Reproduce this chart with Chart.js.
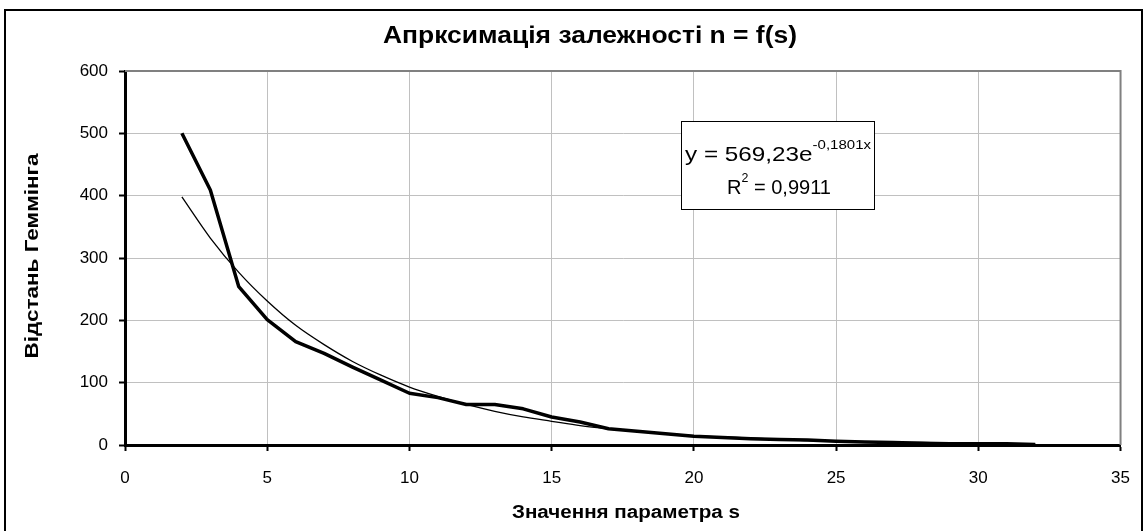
<!DOCTYPE html>
<html><head><meta charset="utf-8">
<script src="https://cdn.jsdelivr.net/npm/chart.js@4/dist/chart.umd.min.js"></script>
<style>html,body{margin:0;padding:0;background:#fff;overflow:hidden}#wrap{width:1147px;height:531px}</style>
</head><body><div id="wrap"><canvas id="c" width="1147" height="531"></canvas></div>
<script>
// ---- data ----
const sValues = [2,3,4,5,6,7,8,9,10,11,12,13,14,15,16,17,18,19,20,21,22,23,24,25,26,27,28,29,30,31,32];
const hammingDistance = [500,409,254,201,166,147,125,104,83,76,65,65,58,45,37,26,22,18,14,12,10,9,8,6,5,4,3,2,2,2,1];
const trendValues = [398,332,277,231,192,161,134,112,93,78,65,54,45,38,31,26,22,18,15,13,11,9,7,6,5,4,4,3,3,2,2];
const xTicks = [0,5,10,15,20,25,30,35];
const yTicks = [0,100,200,300,400,500,600];
const chartTitle = 'Апрксимація залежності n = f(s)';
const xTitle = 'Значення параметра s';
const yTitle = 'Відстань Геммінга';
const eqMain = 'y = 569,23e';
const eqExp = '-0,1801x';
const r2Main = 'R';
const r2Sup = '2';
const r2Rest = ' = 0,9911';

const FONT = '"Liberation Sans", Arial, sans-serif';

function fitText(ctx, text, x, y, width, font, align) {
  ctx.save();
  ctx.font = font;
  const w = ctx.measureText(text).width;
  const sx = width / w;
  ctx.translate(x, y);
  ctx.scale(sx, 1);
  ctx.textAlign = align || 'center';
  ctx.textBaseline = 'middle';
  ctx.fillStyle = '#000';
  ctx.fillText(text, 0, 0);
  ctx.restore();
}

function runs(ctx, parts, x, y, width) {
  let total = 0;
  parts.forEach(p => { ctx.font = p.size + 'px ' + FONT; p.w = ctx.measureText(p.t).width; total += p.w; });
  const sx = width / total;
  ctx.save();
  ctx.translate(x, y);
  ctx.scale(sx, 1);
  ctx.textAlign = 'left';
  ctx.textBaseline = 'alphabetic';
  ctx.fillStyle = '#000';
  let cx = 0;
  parts.forEach(p => { ctx.font = p.size + 'px ' + FONT; ctx.fillText(p.t, cx, p.dy || 0); cx += p.w; });
  ctx.restore();
}

const decor = {
  id: 'decor',
  beforeDraw(chart) {
    const ctx = chart.ctx;
    ctx.save();
    ctx.fillStyle = '#fff';
    ctx.fillRect(0, 0, chart.width, chart.height);
    ctx.strokeStyle = '#000';
    ctx.lineWidth = 2;
    ctx.strokeRect(5, 10, 1137, 530);
    ctx.restore();
  },
  beforeDatasetsDraw(chart) {
    const ctx = chart.ctx, a = chart.chartArea;
    ctx.save();
    ctx.strokeStyle = '#808080';
    ctx.lineWidth = 2;
    ctx.beginPath();
    ctx.moveTo(a.left, a.top);
    ctx.lineTo(a.right, a.top);
    ctx.lineTo(a.right, a.bottom);
    ctx.stroke();
    ctx.restore();
  },
  afterDraw(chart) {
    const ctx = chart.ctx;
    fitText(ctx, chartTitle, 590, 37, 414, 'bold 23px ' + FONT);
    fitText(ctx, xTitle, 626, 513, 228, 'bold 18px ' + FONT);
    ctx.save();
    ctx.translate(33, 256);
    ctx.rotate(-Math.PI / 2);
    fitText(ctx, yTitle, 0, 0, 205, 'bold 18px ' + FONT);
    ctx.restore();
    ctx.save();
    ctx.fillStyle = '#fff';
    ctx.fillRect(681, 121, 193, 88);
    ctx.strokeStyle = '#000';
    ctx.lineWidth = 1;
    ctx.strokeRect(681.5, 121.5, 193, 88);
    ctx.restore();
    runs(ctx, [{ t: eqMain, size: 21 }, { t: eqExp, size: 13, dy: -12 }], 685, 161, 186);
    runs(ctx, [{ t: r2Main, size: 21 }, { t: r2Sup, size: 13, dy: -12 }, { t: r2Rest, size: 21 }], 727, 194, 104);
  }
};

const ctx = document.getElementById('c').getContext('2d');
new Chart(ctx, {
  type: 'line',
  data: {
    datasets: [
      {
        label: 'n',
        data: sValues.map((s, i) => ({ x: s, y: hammingDistance[i] })),
        borderColor: '#000',
        borderWidth: 3.5,
        pointRadius: 0,
        tension: 0,
        borderJoinStyle: 'round',
        fill: false
      },
      {
        label: 'trend',
        data: sValues.map((s, i) => ({ x: s, y: trendValues[i] })),
        borderColor: '#000',
        borderWidth: 1.3,
        pointRadius: 0,
        tension: 0.3,
        fill: false
      }
    ]
  },
  options: {
    responsive: false,
    animation: false,
    events: [],
    layout: { padding: { top: 71, right: 15, left: 0, bottom: 0 } },
    plugins: { legend: { display: false }, tooltip: { enabled: false }, title: { display: false } },
    scales: {
      x: {
        type: 'linear',
        min: 0, max: 35,
        afterBuildTicks: s => { s.ticks = xTicks.map(v => ({ value: v })); },
        afterFit: s => { s.height = 86; },
        ticks: { color: '#000', font: { family: FONT, size: 17 }, padding: 17, maxRotation: 0, autoSkip: false },
        grid: { color: '#c0c0c0', lineWidth: 1, tickColor: '#000', tickLength: 6, tickWidth: 2 },
        border: { color: '#000', width: 3 }
      },
      y: {
        type: 'linear',
        min: 0, max: 600,
        afterBuildTicks: s => { s.ticks = yTicks.map(v => ({ value: v })); },
        afterFit: s => { s.width = 125; },
        ticks: { color: '#000', font: { family: FONT, size: 17 }, padding: 11, autoSkip: false },
        grid: { color: '#c0c0c0', lineWidth: 1, tickColor: '#000', tickLength: 6, tickWidth: 2 },
        border: { color: '#000', width: 3 }
      }
    }
  },
  plugins: [decor]
});
</script>
</body></html>
